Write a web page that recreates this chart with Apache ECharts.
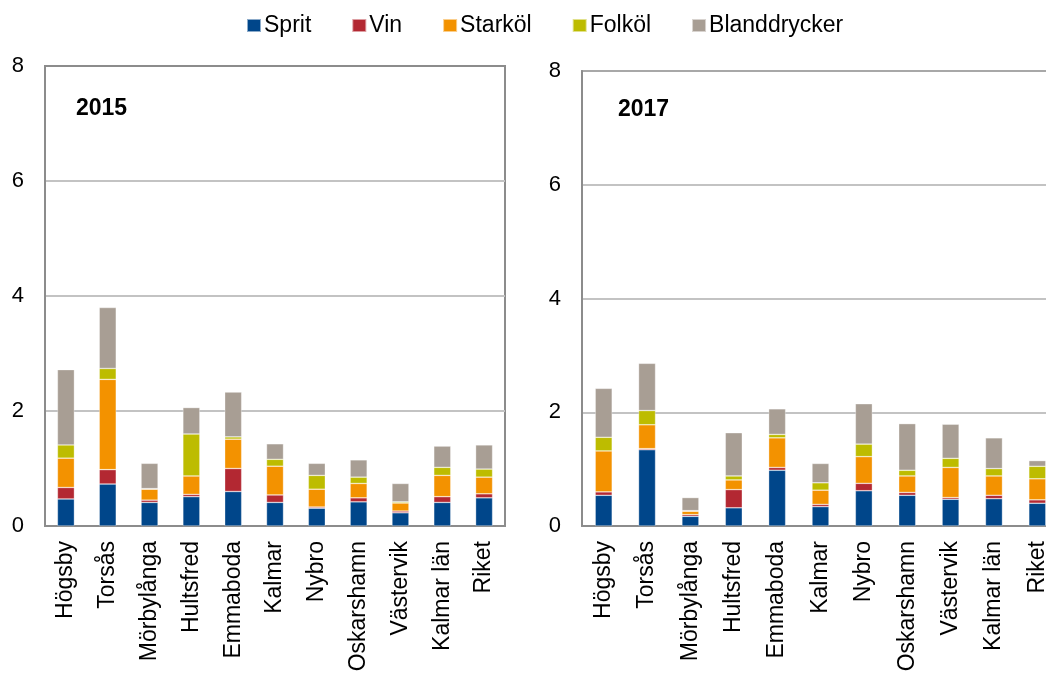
<!DOCTYPE html>
<html>
<head>
<meta charset="utf-8">
<script src="https://cdn.jsdelivr.net/npm/echarts@6/dist/echarts.min.js"></script>
<style>
html,body{margin:0;padding:0;background:#fff;}
#chart{width:1046px;height:677px;}
</style>
</head>
<body>
<div id="chart"></div>
<script>
var categories = ['Högsby','Torsås','Mörbylånga','Hultsfred','Emmaboda','Kalmar','Nybro','Oskarshamn','Västervik','Kalmar län','Riket'];
var seriesNames = ['Sprit','Vin','Starköl','Folköl','Blanddrycker'];
var yTicks = [0, 2, 4, 6, 8];
var panelTitles = ['2015', '2017'];

// 2015
var sprit2015 = [0.47, 0.73, 0.41, 0.51, 0.60, 0.41, 0.31, 0.42, 0.23, 0.41, 0.49];
var vin2015 = [0.20, 0.25, 0.04, 0.04, 0.40, 0.13, 0.02, 0.07, 0.03, 0.10, 0.07];
var stark2015 = [0.51, 1.57, 0.19, 0.32, 0.51, 0.50, 0.31, 0.25, 0.14, 0.37, 0.29];
var folk2015 = [0.23, 0.19, 0.01, 0.73, 0.04, 0.12, 0.24, 0.11, 0.02, 0.14, 0.14];
var bland2015 = [1.31, 1.06, 0.44, 0.46, 0.78, 0.27, 0.21, 0.30, 0.32, 0.37, 0.42];

// 2017
var sprit2017 = [0.54, 1.34, 0.17, 0.32, 0.98, 0.34, 0.62, 0.54, 0.47, 0.48, 0.40];
var vin2017 = [0.06, 0.02, 0.03, 0.32, 0.05, 0.04, 0.13, 0.05, 0.03, 0.06, 0.06];
var stark2017 = [0.72, 0.42, 0.06, 0.17, 0.52, 0.25, 0.47, 0.29, 0.53, 0.34, 0.37];
var folk2017 = [0.24, 0.25, 0.01, 0.07, 0.06, 0.13, 0.22, 0.10, 0.16, 0.13, 0.22];
var bland2017 = [0.86, 0.83, 0.23, 0.76, 0.45, 0.34, 0.71, 0.82, 0.60, 0.54, 0.10];

var colors = ['#00468a', '#b32832', '#f39200', '#bdbc00', '#a89e94'];
var data2015 = [sprit2015, vin2015, stark2015, folk2015, bland2015];
var data2017 = [sprit2017, vin2017, stark2017, folk2017, bland2017];

var FONT = '"Liberation Sans", Arial, sans-serif';

function makeXAxis(gi) {
  return {
    type: 'category', gridIndex: gi, data: categories,
    axisLine: {show: true, lineStyle: {color: '#8c8c8c', width: 2}},
    axisTick: {show: false},
    axisLabel: {rotate: 90, color: '#000', fontSize: 23, fontFamily: FONT, margin: 15, interval: 0}
  };
}
function makeYAxis(gi) {
  return {
    type: 'value', gridIndex: gi, min: yTicks[0], max: yTicks[yTicks.length-1], interval: yTicks[1]-yTicks[0],
    axisLine: {show: true, lineStyle: {color: '#8c8c8c', width: 2}},
    axisTick: {show: false},
    axisLabel: {color: '#000', fontSize: 22, fontFamily: FONT, margin: 21},
    splitLine: {show: true, showMinLine: false, showMaxLine: false, lineStyle: {color: '#c3c3c3', width: 2}}
  };
}

var series = [];
[data2015, data2017].forEach(function(dset, gi) {
  dset.forEach(function(vals, si) {
    series.push({
      name: seriesNames[si], type: 'bar', stack: 'p' + gi,
      xAxisIndex: gi, yAxisIndex: gi, data: vals, barWidth: 17,
      itemStyle: {color: colors[si], borderColor: 'rgba(255,255,255,0.55)', borderWidth: 0.6},
      emphasis: {disabled: true}
    });
  });
});

var chart = echarts.init(document.getElementById('chart'), null, {renderer: 'canvas'});
chart.setOption({
  animation: false,
  color: colors,
  textStyle: {fontFamily: FONT},
  legend: {
    top: 9, left: 241, itemWidth: 14, itemHeight: 13, itemGap: 40,
    icon: 'rect',
    textStyle: {fontSize: 23, color: '#000', fontFamily: FONT, padding: [0, 0, 0, -2]},
    data: seriesNames
  },
  title: [
    {text: panelTitles[0], left: 71, top: 92, textStyle: {fontSize: 23, fontWeight: 'bold', color: '#000', fontFamily: FONT}},
    {text: panelTitles[1], left: 613, top: 93, textStyle: {fontSize: 23, fontWeight: 'bold', color: '#000', fontFamily: FONT}}
  ],
  grid: [
    {left: 45, top: 66, width: 460, height: 460, show: true, borderColor: '#8c8c8c', borderWidth: 2, backgroundColor: 'transparent', outerBoundsMode: 'none', containLabel: false},
    {left: 582, top: 71, width: 477, height: 455, show: true, borderColor: '#a8a8a8', borderWidth: 2, backgroundColor: 'transparent', outerBoundsMode: 'none', containLabel: false}
  ],
  xAxis: [makeXAxis(0), makeXAxis(1)],
  yAxis: [makeYAxis(0), makeYAxis(1)],
  series: series
});
</script>
</body>
</html>
